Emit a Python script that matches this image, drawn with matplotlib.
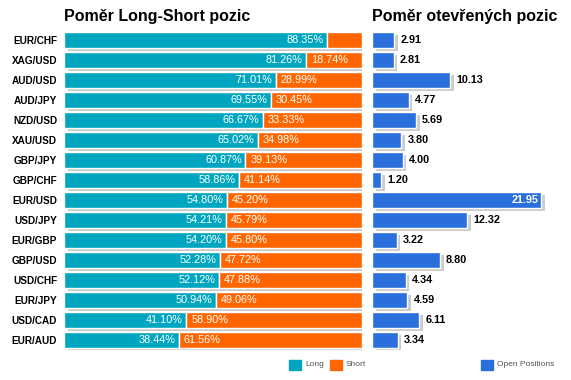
import matplotlib
matplotlib.use("Agg")
import matplotlib.pyplot as plt
import matplotlib.patheffects as pe
from matplotlib.patches import Rectangle

plt.rcParams['font.family'] = ['Liberation Sans', 'DejaVu Sans']

pairs = ["EUR/CHF", "XAG/USD", "AUD/USD", "AUD/JPY", "NZD/USD", "XAU/USD", "GBP/JPY",
         "GBP/CHF", "EUR/USD", "USD/JPY", "EUR/GBP", "GBP/USD", "USD/CHF", "EUR/JPY",
         "USD/CAD", "EUR/AUD"]
long_pct = [88.35, 81.26, 71.01, 69.55, 66.67, 65.02, 60.87, 58.86, 54.80, 54.21,
            54.20, 52.28, 52.12, 50.94, 41.10, 38.44]
short_pct = [11.65, 18.74, 28.99, 30.45, 33.33, 34.98, 39.13, 41.14, 45.20, 45.79,
             45.80, 47.72, 47.88, 49.06, 58.90, 61.56]
open_pos = [2.91, 2.81, 10.13, 4.77, 5.69, 3.80, 4.00, 1.20, 21.95, 12.32, 3.22,
            8.80, 4.34, 4.59, 6.11, 3.34]

C_LONG = "#00a6bf"
C_SHORT = "#ff6600"
C_OPEN = "#2a6fdb"
SHADOW = [pe.SimplePatchShadow(offset=(2.6, -2.3), shadow_rgbFace="#cccccc", alpha=1.0), pe.Normal()]

W, H = 571, 380
fig = plt.figure(figsize=(W / 100, H / 100), dpi=100)

def px_axes(x0, y0, x1, y1):
    return fig.add_axes([x0 / W, 1 - y1 / H, (x1 - x0) / W, (y1 - y0) / H])

n = len(pairs)
ax1 = px_axes(64, 30, 362, 350)
ax2 = px_axes(372, 30, 565, 350)
for ax in (ax1, ax2):
    ax.set_ylim(n - 0.5, -0.5)
    for s in ax.spines.values():
        s.set_visible(False)
    ax.set_xticks([])
    ax.tick_params(axis='y', length=0)
    ax.patch.set_alpha(0)

ax1.set_xlim(0, 100)
ax2.set_xlim(0, 25)
y = list(range(n))

ax1.barh(y, long_pct, height=0.8, color=C_LONG, edgecolor="white", linewidth=1.0,
         path_effects=SHADOW)
ax1.barh(y, short_pct, left=long_pct, height=0.8, color=C_SHORT, edgecolor="white",
         linewidth=1.0, path_effects=SHADOW)
ax1.set_yticks(y)
ax1.set_yticklabels(pairs, fontsize=7.2, fontweight='bold')
ax1.tick_params(axis='y', pad=5)

for i in range(n):
    ax1.text(long_pct[i] - 1.2, i, f"{long_pct[i]:.2f}%", color="white", fontsize=7.8,
             ha="right", va="center")
    if short_pct[i] > 15:
        ax1.text(long_pct[i] + 1.6, i, f"{short_pct[i]:.2f}%", color="white", fontsize=7.8,
                 ha="left", va="center")

ax2.barh(y, open_pos, height=0.8, color=C_OPEN, edgecolor="white", linewidth=1.0,
         path_effects=SHADOW)
ax2.set_yticks([])
for i, v in enumerate(open_pos):
    if v > 20:
        ax2.text(v - 0.4, i, f"{v:.2f}", color="white", fontsize=7.8, fontweight='bold',
                 ha="right", va="center")
    else:
        ax2.text(v + 0.8, i, f"{v:.2f}", color="black", fontsize=7.8, fontweight='bold',
                 ha="left", va="center")

fig.text(64 / W, 1 - 17 / H, "Poměr Long-Short pozic", fontsize=11.5, fontweight='bold',
         ha="left", va="center")
fig.text(372 / W, 1 - 17 / H, "Poměr otevřených pozic", fontsize=11.5, fontweight='bold',
         ha="left", va="center")

# legend
def legend_item(xpx, color, label):
    fig.patches.append(Rectangle((xpx / W, 1 - 370 / H), 12 / W, 10 / H, color=color,
                                 transform=fig.transFigure, figure=fig))
    fig.text((xpx + 16) / W, 1 - 365 / H, label, fontsize=6, color="#555555",
             ha="left", va="center")

legend_item(289, C_LONG, "Long")
legend_item(330, C_SHORT, "Short")
legend_item(481, C_OPEN, "Open Positions")

fig.savefig("out.png", dpi=100)
